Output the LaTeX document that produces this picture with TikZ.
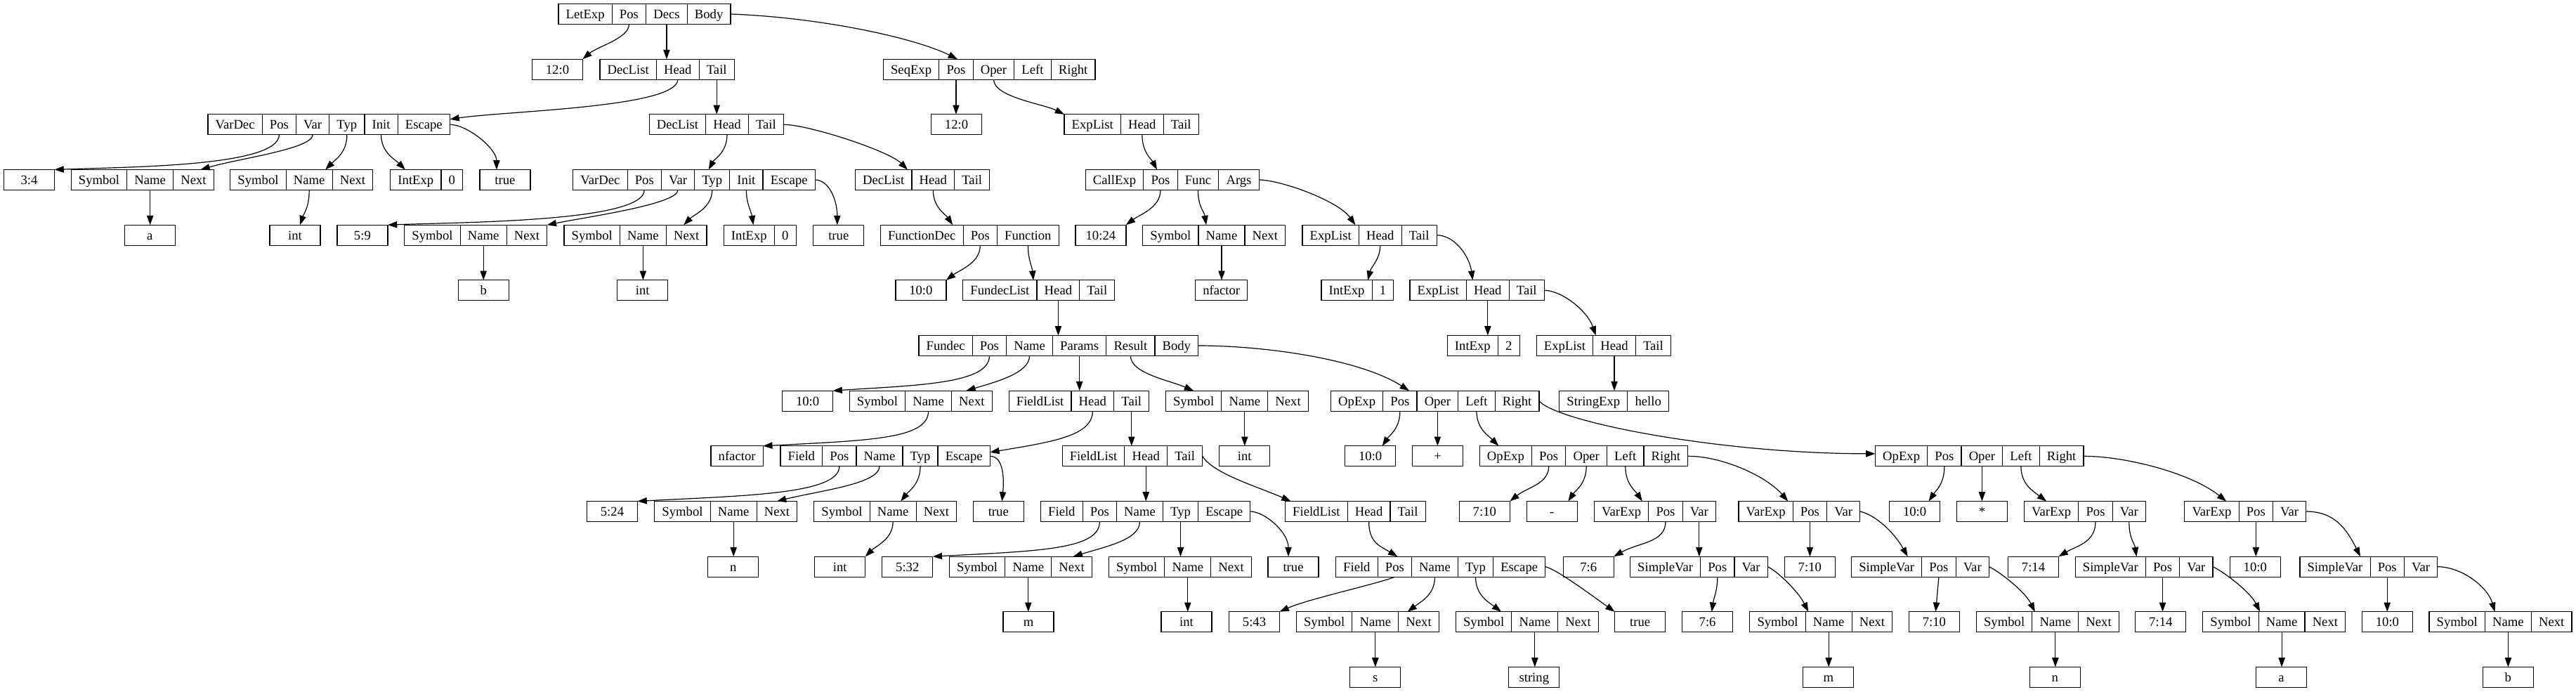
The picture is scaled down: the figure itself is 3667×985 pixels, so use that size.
\documentclass[tikz,border=0pt]{standalone}
\usepackage{fontspec}
\setmainfont{Liberation Serif}
\usetikzlibrary{positioning,arrows.meta}

\newcommand{\rec}[4]{%
  \coordinate (#1-0) at (#2,#3);
  \foreach \lab [count=\i, remember=\i as \j (initially 0)] in {#4}
    {\node[fld, right=0pt of #1-\j] (#1-\i) {\lab};}%
}

\begin{document}
\begin{tikzpicture}[x=1pt, y=-1pt,
    box/.style={draw, line width=1.2pt, inner xsep=10.67pt, inner ysep=0pt, outer sep=0pt,
      minimum height=29pt, text height=17pt, text depth=4pt, font=\fontsize{18.67}{20}\selectfont},
    fld/.style={box},
    leaf/.style={box, minimum width=72pt},
    arr/.style={-{Triangle[length=13.3pt,width=9.3pt]}, line width=1.2pt}]
  \useasboundingbox (0,0) rectangle (3667,985);

  \rec{let}{795}{20}{LetExp,Pos,Decs,Body}
  \rec{dl1}{854}{98.7}{DecList,Head,Tail}
  \rec{seq}{1257.4}{98.7}{SeqExp,Pos,Oper,Left,Right}
  \rec{vd1}{295.9}{177.3}{VarDec,Pos,Var,Typ,Init,Escape}
  \rec{dl2}{924.2}{177.3}{DecList,Head,Tail}
  \rec{el1}{1515}{177.3}{ExpList,Head,Tail}
  \rec{syma}{101.3}{256}{Symbol,Name,Next}
  \rec{symi1}{327.8}{256}{Symbol,Name,Next}
  \rec{ie1}{555.8}{256}{IntExp,0}
  \rec{vd2}{815.8}{256}{VarDec,Pos,Var,Typ,Init,Escape}
  \rec{dl3}{1217.5}{256}{DecList,Head,Tail}
  \rec{call}{1545.3}{256}{CallExp,Pos,Func,Args}
  \rec{symb}{575.8}{334.7}{Symbol,Name,Next}
  \rec{symi2}{803}{334.7}{Symbol,Name,Next}
  \rec{ie2}{1030.3}{334.7}{IntExp,0}
  \rec{fd}{1253.4}{334.7}{FunctionDec,Pos,Function}
  \rec{symnf}{1626.6}{334.7}{Symbol,Name,Next}
  \rec{el2}{1853.9}{334.7}{ExpList,Head,Tail}
  \rec{fdl}{1370.7}{413.3}{FundecList,Head,Tail}
  \rec{ie3}{1881}{413.3}{IntExp,1}
  \rec{el3}{2007}{413.3}{ExpList,Head,Tail}
  \rec{fun}{1308}{492}{Fundec,Pos,Name,Params,Result,Body}
  \rec{ie4}{2060.3}{492}{IntExp,2}
  \rec{el4}{2187.2}{492}{ExpList,Head,Tail}
  \rec{symnf2}{1209.2}{570.7}{Symbol,Name,Next}
  \rec{fl1}{1436.2}{570.7}{FieldList,Head,Tail}
  \rec{symi3}{1659.4}{570.7}{Symbol,Name,Next}
  \rec{op1}{1894.5}{570.7}{OpExp,Pos,Oper,Left,Right}
  \rec{sexp}{2219.8}{570.7}{StringExp,hello}
  \rec{fld1}{1111}{649.3}{Field,Pos,Name,Typ,Escape}
  \rec{fl2}{1512.1}{649.3}{FieldList,Head,Tail}
  \rec{op2}{2106.3}{649.3}{OpExp,Pos,Oper,Left,Right}
  \rec{op3}{2669.5}{649.3}{OpExp,Pos,Oper,Left,Right}
  \rec{symn}{931.8}{728}{Symbol,Name,Next}
  \rec{symi4}{1158.8}{728}{Symbol,Name,Next}
  \rec{fld2}{1481.5}{728}{Field,Pos,Name,Typ,Escape}
  \rec{fl3}{1829.5}{728}{FieldList,Head,Tail}
  \rec{ve1}{2269.5}{728}{VarExp,Pos,Var}
  \rec{ve2}{2474.9}{728}{VarExp,Pos,Var}
  \rec{ve3}{2881.5}{728}{VarExp,Pos,Var}
  \rec{ve4}{3109.8}{728}{VarExp,Pos,Var}
  \rec{symm}{1351.4}{806.7}{Symbol,Name,Next}
  \rec{symi5}{1578.4}{806.7}{Symbol,Name,Next}
  \rec{fld3}{1901.5}{806.7}{Field,Pos,Name,Typ,Escape}
  \rec{sv1}{2320.5}{806.7}{SimpleVar,Pos,Var}
  \rec{sv2}{2635.6}{806.7}{SimpleVar,Pos,Var}
  \rec{sv3}{2954.2}{806.7}{SimpleVar,Pos,Var}
  \rec{sv4}{3273.9}{806.7}{SimpleVar,Pos,Var}
  \rec{syms}{1845.4}{885.3}{Symbol,Name,Next}
  \rec{symstr}{2072.4}{885.3}{Symbol,Name,Next}
  \rec{symm2}{2490.8}{885.3}{Symbol,Name,Next}
  \rec{symn2}{2813.4}{885.3}{Symbol,Name,Next}
  \rec{syma2}{3135.7}{885.3}{Symbol,Name,Next}
  \rec{symb2}{3458}{885.3}{Symbol,Name,Next}

  \node[leaf] (p1) at (793.5,98.7) {12:0};
  \node[leaf] (p2) at (1361.5,177.3) {12:0};
  \node[leaf] (p3) at (41.5,256) {3:4};
  \node[leaf] (t1) at (718.9,256) {true};
  \node[leaf] (a1) at (213.3,334.7) {a};
  \node[leaf] (i1) at (420,334.7) {int};
  \node[leaf] (p4) at (515.9,334.7) {5:9};
  \node[leaf] (t2) at (1193.8,334.7) {true};
  \node[leaf] (p5) at (1566.9,334.7) {10:24};
  \node[leaf] (b1) at (688.2,413.3) {b};
  \node[leaf] (i2) at (914.7,413.3) {int};
  \node[leaf] (p6) at (1310.9,413.3) {10:0};
  \node[leaf] (nf1) at (1738.7,413.3) {nfactor};
  \node[leaf] (p7) at (1149.6,570.7) {10:0};
  \node[leaf] (nf2) at (1049.1,649.3) {nfactor};
  \node[leaf] (i3) at (1771.8,649.3) {int};
  \node[leaf] (p8) at (1950.7,649.3) {10:0};
  \node[leaf] (plus) at (2046.7,649.3) {+};
  \node[leaf] (p9) at (871.5,728) {5:24};
  \node[leaf] (t3) at (1421.3,728) {true};
  \node[leaf] (p10) at (2113.3,728) {7:10};
  \node[leaf] (minus) at (2209.3,728) {-};
  \node[leaf] (p11) at (2725.6,728) {10:0};
  \node[leaf] (star) at (2821.5,728) {*};
  \node[leaf] (n1) at (1043.7,806.7) {n};
  \node[leaf] (i4) at (1195.8,806.7) {int};
  \node[leaf] (p12) at (1291.8,806.7) {5:32};
  \node[leaf] (t4) at (1841,806.7) {true};
  \node[leaf] (p13) at (2261.3,806.7) {7:6};
  \node[leaf] (p14) at (2576.3,806.7) {7:10};
  \node[leaf] (p15) at (2894.5,806.7) {7:14};
  \node[leaf] (p16) at (3210.3,806.7) {10:0};
  \node[leaf] (m1) at (1464,885.3) {m};
  \node[leaf] (i5) at (1689,885.3) {int};
  \node[leaf] (p17) at (1785.5,885.3) {5:43};
  \node[leaf] (t5) at (2334.6,885.3) {true};
  \node[leaf] (p18) at (2430.6,885.3) {7:6};
  \node[leaf] (p19) at (2753.4,885.3) {7:10};
  \node[leaf] (p20) at (3075.8,885.3) {7:14};
  \node[leaf] (p21) at (3398.4,885.3) {10:0};
  \node[leaf] (s1) at (1957.7,964) {s};
  \node[leaf] (strg) at (2183.8,964) {string};
  \node[leaf] (m2) at (2602.8,964) {m};
  \node[leaf] (n2) at (2925.3,964) {n};
  \node[leaf] (a2) at (3247.6,964) {a};
  \node[leaf] (b2) at (3570.3,964) {b};

  \draw[arr] (let-2.south) .. controls +(0,20) and +(21,-18) .. (p1.north east);
  \draw[arr] (let-3.south) -- (let-3.south |- dl1-2.north);
  \draw[arr] (let-4.east) .. controls +(130,5) and +(-60,-30) .. ([xshift=2pt]seq-2.north);
  \draw[arr] (dl1-2.south) .. controls +(0,40) and +(80,-12) .. ([yshift=-7pt]vd1-6.north east);
  \draw[arr] (dl1-3.south) -- (dl1-3.south |- dl2-2.north);
  \draw[arr] (seq-2.south) -- (seq-2.south |- p2.north);
  \draw[arr] (seq-3.south) .. controls +(0,25) and +(-30,-15) .. (el1-1.north west);
  \draw[arr] (vd1-2.south) .. controls +(0,45) and +(110,-4) .. (p3.north east);
  \draw[arr] (vd1-3.south) .. controls +(0,20) and +(55,-16) .. ([xshift=10pt]syma-3.north);
  \draw[arr] (vd1-4.south) .. controls +(0,25) and +(15,-15) .. ([xshift=23pt]symi1-2.north);
  \draw[arr] (vd1-5.south) .. controls +(0,25) and +(-15,-15) .. ([xshift=-15pt]ie1-1.north);
  \draw[arr] (vd1-6.east) .. controls +(25,0) and +(0,-30) .. ([xshift=-12pt]t1.north);
  \draw[arr] (dl2-2.south) .. controls +(0,25) and +(8,-15) .. ([xshift=-5pt]vd2-4.north);
  \draw[arr] (dl2-3.east) .. controls +(35,0) and +(-27,-27) .. ([xshift=-6pt]dl3-2.north west);
  \draw[arr] (el1-2.south) .. controls +(0,25) and +(-8,-15) .. ([xshift=-5pt]call-2.north);
  \draw[arr] (syma-2.south) -- (syma-2.south |- a1.north);
  \draw[arr] (symi1-2.south) .. controls +(0,25) and +(5,-15) .. ([xshift=7pt]i1.north);
  \draw[arr] (vd2-2.south) .. controls +(0,45) and +(110,-4) .. (p4.north east);
  \draw[arr] (vd2-3.south) .. controls +(0,20) and +(60,-12) .. (symb-3.north east);
  \draw[arr] (vd2-4.south) .. controls +(0,25) and +(15,-15) .. ([xshift=-4pt]symi2-3.north);
  \draw[arr] (vd2-5.south) .. controls +(0,20) and +(-3,-20) .. ([xshift=6pt]ie2-1.north);
  \draw[arr] (vd2-6.east) .. controls +(20,0) and +(0,-35) .. ([xshift=-2pt]t2.north);
  \draw[arr] (dl3-2.south) .. controls +(0,25) and +(-10,-15) .. ([xshift=-15pt]fd-1.north east);
  \draw[arr] (call-2.south) .. controls +(0,25) and +(20,-15) .. (p5.north east);
  \draw[arr] (call-3.south) .. controls +(0,25) and +(-3,-20) .. ([xshift=11pt]symnf-2.north west);
  \draw[arr] (call-4.east) .. controls +(30,0) and +(-25,-35) .. ([xshift=-5pt]el2-2.north west);
  \draw[arr] (symb-2.south) -- (symb-2.south |- b1.north);
  \draw[arr] (symi2-2.south) -- (symi2-2.south |- i2.north);
  \draw[arr] (fd-2.south) .. controls +(0,25) and +(20,-15) .. (p6.north east);
  \draw[arr] (fd-3.south) .. controls +(0,20) and +(-2,-20) .. ([xshift=-5pt]fdl-1.north east);
  \draw[arr] (symnf-2.south) -- (symnf-2.south |- nf1.north);
  \draw[arr] (el2-2.south) .. controls +(0,20) and +(5,-20) .. ([xshift=-6pt]ie3-1.north east);
  \draw[arr] (el2-3.east) .. controls +(25,0) and +(-5,-35) .. ([xshift=9pt]el3-2.north west);
  \draw[arr] (fdl-2.south) -- (fdl-2.south |- fun-4.north);
  \draw[arr] (el3-2.south) -- (el3-2.south |- ie4-1.north);
  \draw[arr] (el3-3.east) .. controls +(25,0) and +(-12,-35) .. ([xshift=4pt]el4-2.north west);
  \draw[arr] (fun-2.south) .. controls +(0,40) and +(120,-8) .. (p7.north east);
  \draw[arr] (fun-3.south) .. controls +(0,25) and +(40,-12) .. ([xshift=-8pt]symnf2-3.north);
  \draw[arr] (fun-4.south) -- (fun-4.south |- fl1-2.north);
  \draw[arr] (fun-5.south) .. controls +(0,25) and +(-35,-15) .. (symi3-1.north);
  \draw[arr] (fun-6.east) .. controls +(95,0) and +(-70,-45) .. ([xshift=13pt]op1-2.north);
  \draw[arr] (el4-2.south) -- (el4-2.south |- sexp-1.north);
  \draw[arr] (symnf2-2.south) .. controls +(0,40) and +(150,-8) .. (nf2.north east);
  \draw[arr] (fl1-2.south) .. controls +(0,35) and +(90,-15) .. ([yshift=-9pt]fld1-5.north east);
  \draw[arr] (fl1-3.south) -- (fl1-3.south |- fl2-2.north);
  \draw[arr] (symi3-2.south) -- (symi3-2.south |- i3.north);
  \draw[arr] (op1-2.south) .. controls +(0,25) and +(10,-15) .. ([xshift=17pt]p8.north);
  \draw[arr] (op1-3.south) -- (op1-3.south |- plus.north);
  \draw[arr] (op1-4.south) .. controls +(0,25) and +(-15,-15) .. ([xshift=-10pt]op2-1.north);
  \draw[arr] (op1-5.east) .. controls +(25,30) and +(-220,0) .. ([yshift=-11pt]op3-1.north west);
  \draw[arr] (fld1-2.south) .. controls +(0,40) and +(150,-8) .. (p9.north east);
  \draw[arr] (fld1-3.south) .. controls +(0,25) and +(60,-15) .. (symn-3.north);
  \draw[arr] (fld1-4.south) .. controls +(0,25) and +(12,-15) .. ([xshift=11pt]symi4-2.north);
  \draw[arr] (fld1-5.east) .. controls +(20,0) and +(3,-30) .. ([xshift=5pt]t3.north);
  \draw[arr] (fl2-2.south) -- (fl2-2.south |- fld2-3.north);
  \draw[arr] (fl2-3.east) .. controls +(15,25) and +(-45,-20) .. ([xshift=8pt]fl3-1.north west);
  \draw[arr] (op2-2.south) .. controls +(0,25) and +(25,-20) .. (p10.north east);
  \draw[arr] (op2-3.south) .. controls +(0,25) and +(10,-15) .. ([xshift=23pt]minus.north);
  \draw[arr] (op2-4.south) .. controls +(0,25) and +(-10,-15) .. ([xshift=-9pt]ve1-1.north east);
  \draw[arr] (op2-5.east) .. controls +(50,0) and +(-30,-35) .. ([xshift=-7pt]ve2-1.north east);
  \draw[arr] (op3-2.south) .. controls +(0,25) and +(10,-15) .. ([xshift=20pt]p11.north);
  \draw[arr] (op3-3.south) -- (op3-3.south |- star.north);
  \draw[arr] (op3-4.south) .. controls +(0,25) and +(-20,-15) .. ([xshift=-7pt]ve3-1.north);
  \draw[arr] (op3-5.east) .. controls +(60,0) and +(-50,-40) .. ([xshift=-18pt]ve4-1.north east);
  \draw[arr] (symn-2.south) -- (symn-2.south |- n1.north);
  \draw[arr] (symi4-2.south) .. controls +(0,25) and +(15,-15) .. (i4.north east);
  \draw[arr] (fld2-2.south) .. controls +(0,40) and +(150,-8) .. (p12.north east);
  \draw[arr] (fld2-3.south) .. controls +(0,25) and +(50,-15) .. ([xshift=2pt]symm-3.north);
  \draw[arr] (fld2-4.south) -- (fld2-4.south |- symi5-2.north);
  \draw[arr] (fld2-5.east) .. controls +(20,0) and +(0,-35) .. ([xshift=-7pt]t4.north);
  \draw[arr] (fl3-2.south) .. controls +(0,30) and +(-25,-15) .. ([xshift=4pt]fld3-2.north);
  \draw[arr] (ve1-2.south) .. controls +(0,30) and +(35,-20) .. (p13.north east);
  \draw[arr] (ve1-3.south) -- (ve1-3.south |- sv1-1.north);
  \draw[arr] (ve2-2.south) -- (ve2-2.south |- p14.north);
  \draw[arr] (ve2-3.east) .. controls +(22,5) and +(-20,-35) .. ([xshift=-20pt]sv2-1.north east);
  \draw[arr] (ve3-2.south) .. controls +(0,30) and +(25,-15) .. (p15.north east);
  \draw[arr] (ve3-3.south) .. controls +(0,25) and +(-3,-20) .. ([xshift=-13pt]sv3-1.north east);
  \draw[arr] (ve4-2.south) -- (ve4-2.south |- p16.north);
  \draw[arr] (ve4-3.east) .. controls +(40,0) and +(-20,-40) .. ([xshift=-14pt]sv4-1.north east);
  \draw[arr] (symm-2.south) -- (symm-2.south |- m1.north);
  \draw[arr] (symi5-2.south) -- (symi5-2.south |- i5.north);
  \draw[arr] (fld3-2.south) .. controls +(-25,10) and +(40,-18) .. (p17.north east);
  \draw[arr] (fld3-3.south) .. controls +(0,25) and +(20,-15) .. ([xshift=-16pt]syms-3.north);
  \draw[arr] (fld3-4.south) .. controls +(0,25) and +(-20,-15) .. ([xshift=25pt]symstr-1.north);
  \draw[arr] (fld3-5.east) .. controls +(15,3) and +(-35,-25) .. (t5.north west);
  \draw[arr] (sv1-2.south) .. controls +(0,20) and +(3,-20) .. ([xshift=6pt]p18.north);
  \draw[arr] (sv1-3.east) .. controls +(12,5) and +(-15,-30) .. ([xshift=4pt]symm2-2.north west);
  \draw[arr] (sv2-2.south) -- ([xshift=2pt]p19.north);
  \draw[arr] (sv2-3.east) .. controls +(12,5) and +(-15,-30) .. ([xshift=4pt]symn2-2.north west);
  \draw[arr] (sv3-2.south) -- (sv3-2.south |- p20.north);
  \draw[arr] (sv3-3.east) .. controls +(12,5) and +(-15,-30) .. ([xshift=2pt]syma2-2.north west);
  \draw[arr] (sv4-2.south) -- (sv4-2.south |- p21.north);
  \draw[arr] (sv4-3.east) .. controls +(35,0) and +(-10,-35) .. ([xshift=14pt]symb2-2.north west);
  \draw[arr] (syms-2.south) -- (syms-2.south |- s1.north);
  \draw[arr] (symstr-2.south) -- (symstr-2.south |- strg.north);
  \draw[arr] (symm2-2.south) -- (symm2-2.south |- m2.north);
  \draw[arr] (symn2-2.south) -- (symn2-2.south |- n2.north);
  \draw[arr] (syma2-2.south) -- (syma2-2.south |- a2.north);
  \draw[arr] (symb2-2.south) -- (symb2-2.south |- b2.north);
\end{tikzpicture}
\end{document}
